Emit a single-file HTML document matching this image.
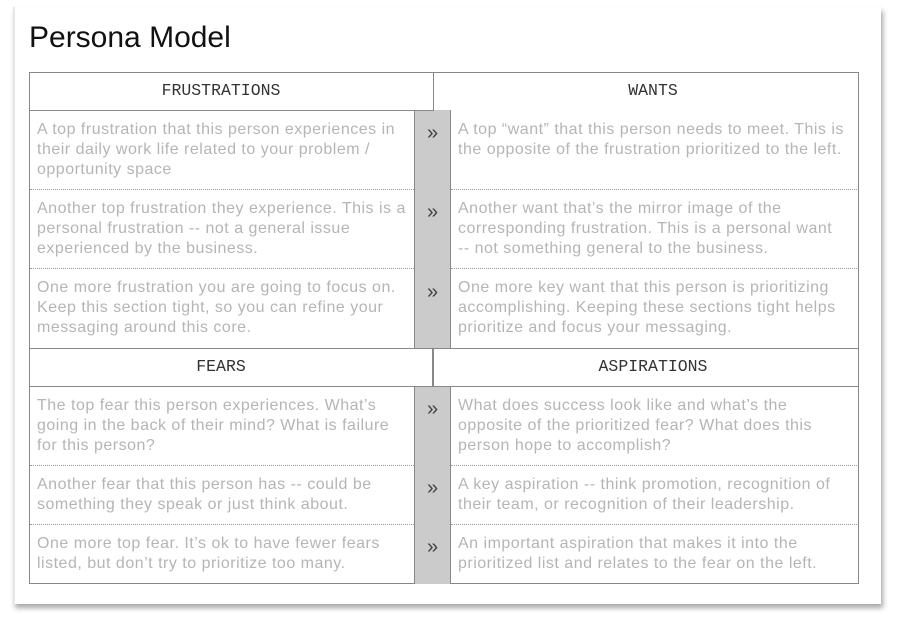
<!DOCTYPE html>
<html><head><meta charset="utf-8"><style>
body{margin:0;width:899px;height:632px;background:#fff;position:relative;overflow:hidden;font-family:"Liberation Sans",sans-serif}
.card{position:absolute;left:13px;top:7px;width:866px;height:597px;background:#fff;border-left:2px solid #e6e6e6;box-shadow:2px 4px 5px rgba(0,0,0,.35)}
.title{position:absolute;left:29px;top:21px;font-size:30px;color:#111}
.b{position:absolute;border:1.5px solid #888;box-sizing:border-box}
.h{position:absolute;font-family:"Liberation Mono",monospace;font-size:16.5px;color:#333;text-align:center;line-height:38px;height:38px}
.t{position:absolute;font-size:16px;line-height:20px;color:#b5b5b5;white-space:nowrap;letter-spacing:0.5px}
.g{position:absolute;left:414px;width:37px;background:#cbcbcb;border-left:1.5px solid #888;border-right:1.5px solid #888;box-sizing:border-box}
.a{position:absolute;left:414px;width:37px;text-align:center;font-size:20px;color:#444}
.d{position:absolute;height:0;border-top:1px dotted #999}
</style></head><body>
<div class="card"></div>
<div class="title">Persona Model</div>
<div class="b" style="left:29px;top:72px;width:830px;height:512px"></div>
<div class="g" style="top:110px;height:239px"></div>
<div class="g" style="top:386px;height:198px"></div>
<div class="b" style="left:29px;top:72px;width:405px;height:39px;border-right:1.5px solid #888"></div>
<div class="b" style="left:29px;top:348px;width:830px;height:39px"></div>
<div style="position:absolute;left:432px;top:348px;width:1.5px;height:38px;background:#888"></div>
<div class="h" style="left:29px;top:72px;width:384px">FRUSTRATIONS</div>
<div class="h" style="left:433px;top:72px;width:440px">WANTS</div>
<div class="h" style="left:29px;top:348px;width:384px">FEARS</div>
<div class="h" style="left:433px;top:348px;width:440px">ASPIRATIONS</div>
<div class="d" style="left:30px;top:189px;width:384px"></div><div class="d" style="left:451px;top:189px;width:406px"></div>
<div class="d" style="left:30px;top:268px;width:384px"></div><div class="d" style="left:451px;top:268px;width:406px"></div>
<div class="d" style="left:30px;top:465px;width:384px"></div><div class="d" style="left:451px;top:465px;width:406px"></div>
<div class="d" style="left:30px;top:524px;width:384px"></div><div class="d" style="left:451px;top:524px;width:406px"></div>
<div class="a" style="top:122px">»</div>
<div class="a" style="top:201px">»</div>
<div class="a" style="top:281px">»</div>
<div class="a" style="top:398px">»</div>
<div class="a" style="top:477px">»</div>
<div class="a" style="top:536px">»</div>
<div class="t" style="left:37px;top:120px">A top frustration that this person experiences in<br>their daily work life related to your problem /<br>opportunity space</div>
<div class="t" style="left:458px;top:120px">A top “want” that this person needs to meet. This is<br>the opposite of the frustration prioritized to the left.</div>
<div class="t" style="left:37px;top:199px">Another top frustration they experience. This is a<br>personal frustration -- not a general issue<br>experienced by the business.</div>
<div class="t" style="left:458px;top:199px">Another want that’s the mirror image of the<br>corresponding frustration. This is a personal want<br>-- not something general to the business.</div>
<div class="t" style="left:37px;top:278px">One more frustration you are going to focus on.<br>Keep this section tight, so you can refine your<br>messaging around this core.</div>
<div class="t" style="left:458px;top:278px">One more key want that this person is prioritizing<br>accomplishing. Keeping these sections tight helps<br>prioritize and focus your messaging.</div>
<div class="t" style="left:37px;top:396px">The top fear this person experiences. What’s<br>going in the back of their mind? What is failure<br>for this person?</div>
<div class="t" style="left:458px;top:396px">What does success look like and what’s the<br>opposite of the prioritized fear? What does this<br>person hope to accomplish?</div>
<div class="t" style="left:37px;top:475px">Another fear that this person has -- could be<br>something they speak or just think about.</div>
<div class="t" style="left:458px;top:475px">A key aspiration -- think promotion, recognition of<br>their team, or recognition of their leadership.</div>
<div class="t" style="left:37px;top:534px">One more top fear. It’s ok to have fewer fears<br>listed, but don’t try to prioritize too many.</div>
<div class="t" style="left:458px;top:534px">An important aspiration that makes it into the<br>prioritized list and relates to the fear on the left.</div>
</body></html>
